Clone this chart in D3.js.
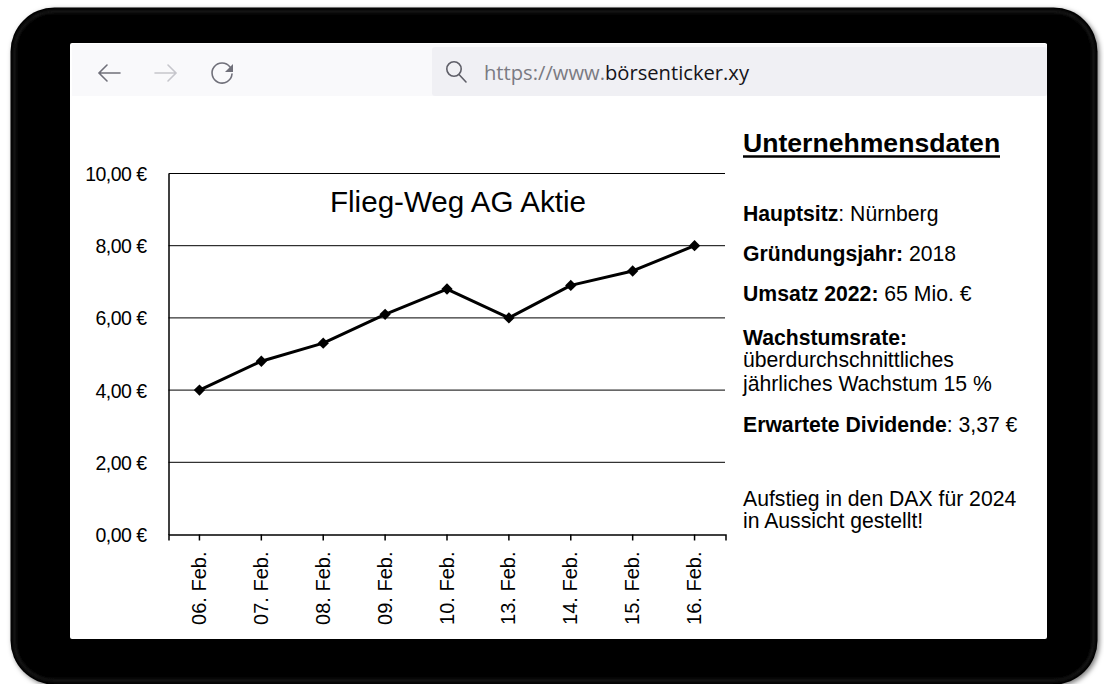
<!DOCTYPE html>
<html><head><meta charset="utf-8">
<script src="https://cdn.jsdelivr.net/npm/d3@7"></script>
<style>
html,body{margin:0;padding:0;background:#fff;overflow:hidden}
svg{display:block}
text{font-family:"Liberation Sans",Arial,sans-serif;fill:#000}
</style></head><body>
<svg id="c" width="1104" height="684"></svg>
<script>
const categories=["06. Feb.","07. Feb.","08. Feb.","09. Feb.","10. Feb.","13. Feb.","14. Feb.","15. Feb.","16. Feb."];
const prices=[4.0,4.8,5.3,6.1,6.8,6.0,6.9,7.3,8.0];
const yTicks=[0,2,4,6,8,10];
const chartTitle="Flieg-Weg AG Aktie";
const urlPrefix="https://www.";
const urlDomain="börsenticker.xy";
const panelTitle="Unternehmensdaten";
const panelLines=[
 [["Hauptsitz",1],[": Nürnberg",0]],
 [["Gründungsjahr:",1],[" 2018",0]],
 [["Umsatz 2022:",1],[" 65 Mio. €",0]],
 [["Wachstumsrate:",1]],
 [["überdurchschnittliches",0]],
 [["jährliches Wachstum 15 %",0]],
 [["Erwartete Dividende",1],[": 3,37 €",0]],
 [["Aufstieg in den DAX für 2024",0]],
 [["in Aussicht gestellt!",0]]
];
const panelLineY=[221,261,301,345,367,391,432,506,528];

const svg=d3.select("#c");
const defs=svg.append("defs");
const f=defs.append("filter").attr("id","sh").attr("x","-5%").attr("y","-5%").attr("width","110%").attr("height","110%");
f.append("feDropShadow").attr("dx",2).attr("dy",2).attr("stdDeviation",2.5).attr("flood-color","#000").attr("flood-opacity",.5);
defs.append("filter").attr("id","bl").append("feGaussianBlur").attr("stdDeviation",1.5);

// device frame
svg.append("rect").attr("x",10.5).attr("y",7.5).attr("width",1087).attr("height",677).attr("rx",44)
  .attr("fill","#030303").attr("filter","url(#sh)");
svg.append("rect").attr("x",14.5).attr("y",11.5).attr("width",1079).attr("height",669).attr("rx",40)
  .attr("fill","none").attr("stroke","#2e2e2e").attr("stroke-width",1.5).attr("filter","url(#bl)");
// screen
svg.append("rect").attr("x",70).attr("y",43).attr("width",977).attr("height",596).attr("rx",2).attr("fill","#fff");
// browser bar
svg.append("rect").attr("x",72).attr("y",44).attr("width",975).attr("height",52).attr("fill","#f9f9fb");
svg.append("rect").attr("x",432).attr("y",47).attr("width",615).attr("height",49).attr("rx",3).attr("fill","#f0f0f4");
const icon=svg.append("g").attr("fill","none").attr("stroke-width",1.6).attr("stroke-linecap","round");
icon.append("path").attr("d","M120 73H99M107 65L99 73L107 81").attr("stroke","#70707a");
icon.append("path").attr("d","M155 73H176M168 65L176 73L168 81").attr("stroke","#c6c6cc");
icon.append("path").attr("d","M230 67A10 10 0 1 0 232 74").attr("stroke","#70707a");
svg.append("path").attr("d","M233 64V72H225Z").attr("fill","#70707a");
icon.append("circle").attr("cx",454).attr("cy",69).attr("r",7.2).attr("stroke","#5f5f68");
icon.append("path").attr("d","M459 74.5L466 82").attr("stroke","#5f5f68");
const url=svg.append("text").attr("x",484).attr("y",80).attr("font-size",20.5).attr("textLength",265).attr("lengthAdjust","spacingAndGlyphs").style("font-family","'Open Sans',sans-serif");
url.append("tspan").style("fill","#7a7a82").text(urlPrefix);
url.append("tspan").style("fill","#15141a").text(urlDomain);

// chart
const x=d3.scaleBand().domain(categories).range([168.5,725.5]);
const y=d3.scaleLinear().domain([0,10]).range([534.5,173.5]);
const g=svg.append("g");
g.selectAll("line.grid").data(yTicks.filter(d=>d>0)).join("line").attr("class","grid")
  .attr("x1",168.5).attr("x2",725).attr("y1",d=>y(d)).attr("y2",d=>y(d)).attr("stroke","#000").attr("stroke-width",1);
const fmt=d=>d3.format(".2f")(d).replace(".",",")+" €";
const yAxis=g.append("g").attr("transform","translate(168.5,0)").call(d3.axisLeft(y).tickValues(yTicks).tickFormat(fmt).tickSize(0).tickPadding(22));
yAxis.select(".domain").attr("stroke","#000").attr("stroke-width",1.5);
yAxis.selectAll("text").attr("font-size",19.5).style("letter-spacing","-0.55px").attr("dy","0.36em").attr("fill","#000");
const xAxis=g.append("g").attr("transform","translate(0,534.5)").call(d3.axisBottom(x).tickSize(6).tickPadding(0));
xAxis.select(".domain").attr("stroke","#000").attr("stroke-width",1.5);
xAxis.selectAll(".tick line").attr("stroke","#000").attr("stroke-width",1.5);
xAxis.selectAll("text").attr("font-size",20).attr("text-anchor","end").attr("fill","#000")
  .attr("transform","translate(6.5,17) rotate(-90)").attr("x",0).attr("y",0).attr("dy",0);
const px=d=>x(d)+x.bandwidth()/2;
g.append("path").datum(prices).attr("fill","none").attr("stroke","#000").attr("stroke-width",3).attr("stroke-linejoin","round")
  .attr("d",d3.line().x((d,i)=>px(categories[i])).y(d=>y(d)));
g.selectAll("path.pt").data(prices).join("path").attr("class","pt")
  .attr("transform",(d,i)=>`translate(${px(categories[i])},${y(d)}) rotate(45)`)
  .attr("d","M-4 -4H4V4H-4Z").attr("fill","#000");
g.append("text").attr("x",458).attr("y",212).attr("text-anchor","middle").attr("font-size",29.6).text(chartTitle);

// side panel
svg.append("text").attr("x",743).attr("y",152).attr("font-size",26.6).attr("font-weight","bold").text(panelTitle);
svg.append("line").attr("x1",743).attr("x2",1000).attr("y1",156.5).attr("y2",156.5).attr("stroke","#000").attr("stroke-width",2.6);
panelLines.forEach((parts,i)=>{
  const t=svg.append("text").attr("x",743).attr("y",panelLineY[i]).attr("font-size",21.2);
  parts.forEach(p=>t.append("tspan").attr("font-weight",p[1]?"bold":"normal").style("white-space","pre").text(p[0]));
});
</script></body></html>
